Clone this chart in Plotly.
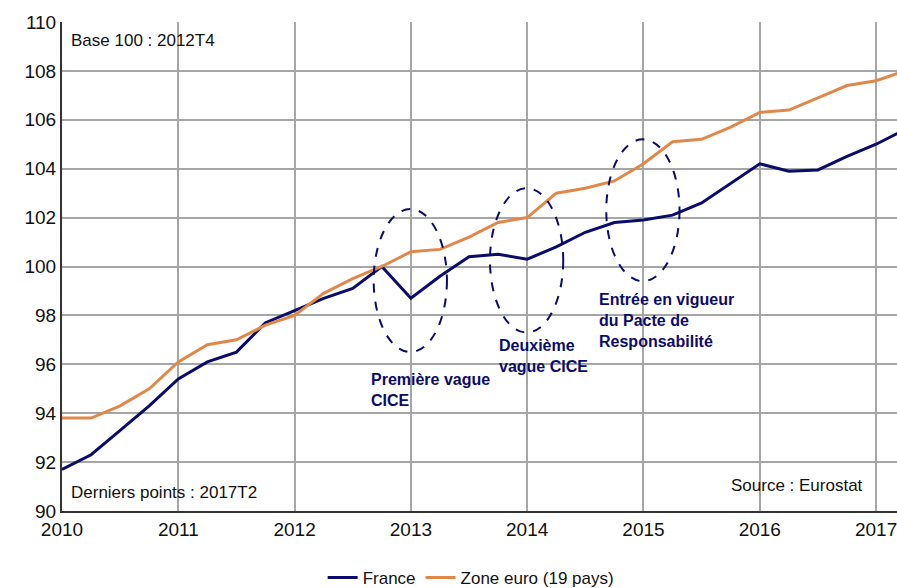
import plotly.graph_objects as go

quarters = [2010 + i * 0.25 for i in range(30)]  # 2010T1 .. 2017T2
france = [91.7, 92.3, 93.3, 94.3, 95.4, 96.1, 96.5, 97.7, 98.2, 98.7, 99.1, 100.0,
          98.7, 99.6, 100.4, 100.5, 100.3, 100.8, 101.4, 101.8, 101.9, 102.1, 102.6, 103.4,
          104.2, 103.9, 103.95, 104.5, 105.0, 105.6]
zone_euro = [93.8, 93.8, 94.3, 95.0, 96.1, 96.8, 97.0, 97.6, 98.0, 98.9, 99.5, 100.0,
             100.6, 100.7, 101.2, 101.8, 102.0, 103.0, 103.2, 103.5, 104.2, 105.1, 105.2, 105.7,
             106.3, 106.4, 106.9, 107.4, 107.6, 108.0]
year_ticks = [2010, 2011, 2012, 2013, 2014, 2015, 2016, 2017]
y_ticks = [90, 92, 94, 96, 98, 100, 102, 104, 106, 108, 110]

NAVY = "#0b0b6b"
ORANGE = "#e0884a"
FONT = "Liberation Sans, Arial, sans-serif"

fig = go.Figure()
fig.add_trace(go.Scatter(x=quarters, y=france, mode="lines", name="France",
                         line=dict(color=NAVY, width=3)))
fig.add_trace(go.Scatter(x=quarters, y=zone_euro, mode="lines", name="Zone euro (19 pays)",
                         line=dict(color=ORANGE, width=3)))

ellipses = [(2012.68, 96.5, 2013.31, 102.35), (2013.68, 97.3, 2014.31, 103.2), (2014.68, 99.4, 2015.31, 105.2)]
shapes = []
for x0, y0, x1, y1 in ellipses:
    shapes.append(dict(type="circle", xref="x", yref="y", x0=x0, y0=y0, x1=x1, y1=y1,
                       line=dict(color=NAVY, width=2, dash="dash")))

annos = [
    dict(x=2012.64, y=95.8, text="Première vague<br>CICE", xanchor="left", yanchor="top"),
    dict(x=2013.74, y=97.2, text="Deuxième<br>vague CICE", xanchor="left", yanchor="top"),
    dict(x=2014.6, y=99.1, text="Entrée en vigueur<br>du Pacte de<br>Responsabilité", xanchor="left", yanchor="top"),
]
annotations = []
for a in annos:
    annotations.append(dict(xref="x", yref="y", showarrow=False, align="left",
                            font=dict(family=FONT, size=16, color=NAVY, weight="bold"), **a))
annotations += [
    dict(xref="paper", yref="paper", x=0.008, y=0.985, xanchor="left", yanchor="top",
         text="Base 100 : 2012T4", showarrow=False, font=dict(family=FONT, size=17, color="#111")),
    dict(xref="paper", yref="paper", x=0.008, y=0.015, xanchor="left", yanchor="bottom",
         text="Derniers points : 2017T2", showarrow=False, font=dict(family=FONT, size=17, color="#111")),
    dict(xref="paper", yref="paper", x=0.962, y=0.028, xanchor="right", yanchor="bottom",
         text="Source : Eurostat", showarrow=False, font=dict(family=FONT, size=17, color="#111")),
]

fig.update_layout(
    width=897, height=588,
    margin=dict(l=62, r=0, t=22, b=77, autoexpand=False),
    paper_bgcolor="white", plot_bgcolor="white",
    font=dict(family=FONT, size=19, color="#111"),
    shapes=shapes, annotations=annotations,
    showlegend=True,
    legend=dict(orientation="h", x=0.49, xanchor="center", y=-0.137, yanchor="middle",
                font=dict(family=FONT, size=17, color="#111"), itemwidth=30,
                tracegroupgap=0),
)
fig.update_xaxes(range=[2010, 2017.18], tickvals=year_ticks, ticktext=[str(t) for t in year_ticks],
                 showgrid=True, gridcolor="#a6a6a6", gridwidth=2, automargin=False,
                 ticklabeloverflow="allow",
                 showline=True, linecolor="#333", linewidth=2, ticks="", zeroline=False,
                 tickfont=dict(size=19))
fig.update_yaxes(range=[90, 110], tickvals=y_ticks, automargin=False,
                 showgrid=True, gridcolor="#a6a6a6", gridwidth=2,
                 showline=True, linecolor="#333", linewidth=2, ticks="", zeroline=False,
                 tickfont=dict(size=19))

# remove the page's default body margin so the figure fills the window exactly
fig.write_html("out.html", config={"displayModeBar": False},
               post_script="document.body.style.margin='0px';document.body.style.overflow='hidden';")
